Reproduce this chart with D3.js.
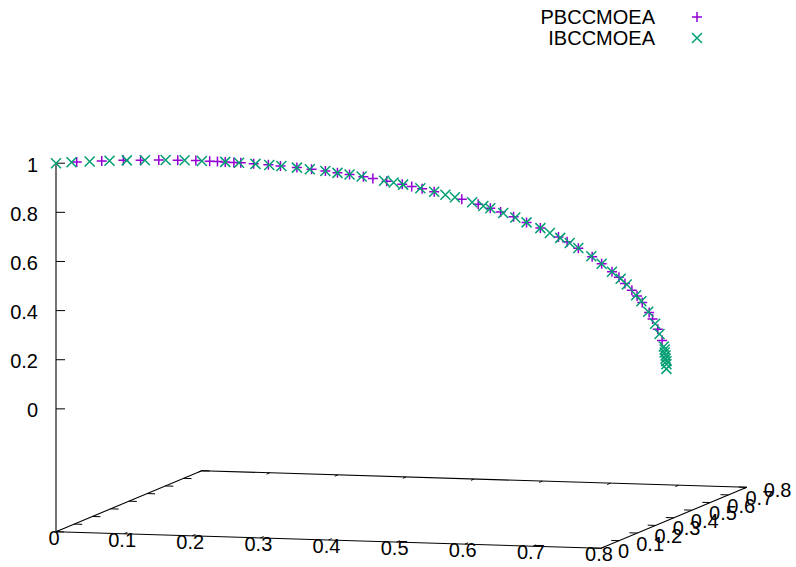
<!DOCTYPE html>
<html>
<head>
<meta charset="utf-8">
<script src="https://cdn.jsdelivr.net/npm/d3@7"></script>
<style>
  html, body { margin: 0; padding: 0; background: #fff; }
  svg { display: block; font-family: "Liberation Sans", Arial, Helvetica, sans-serif; }
</style>
</head>
<body>
<svg id="chart" width="796" height="567"></svg>
<script>
// Series: objective values (f1, f2, f3) of the two solution sets
const seriesNames = ["PBCCMOEA", "IBCCMOEA"];

const pbF1 = [0.024, 0.053, 0.078, 0.098, 0.119, 0.141, 0.162, 0.178, 0.187, 0.196,
  0.206, 0.214, 0.229, 0.246, 0.260, 0.279, 0.296, 0.312, 0.326, 0.340,
  0.356, 0.367, 0.383, 0.401, 0.412, 0.424, 0.438, 0.470, 0.489, 0.503,
  0.515, 0.530, 0.545, 0.561, 0.582, 0.592, 0.605, 0.621, 0.632, 0.644,
  0.652, 0.659, 0.667, 0.673, 0.679, 0.687, 0.691, 0.697, 0.702];
const pbF2 = [0.024, 0.053, 0.078, 0.098, 0.119, 0.141, 0.162, 0.178, 0.187, 0.196,
  0.206, 0.214, 0.229, 0.246, 0.260, 0.279, 0.296, 0.312, 0.326, 0.340,
  0.356, 0.367, 0.383, 0.401, 0.412, 0.424, 0.438, 0.470, 0.489, 0.503,
  0.515, 0.530, 0.545, 0.561, 0.582, 0.592, 0.605, 0.621, 0.632, 0.644,
  0.652, 0.659, 0.667, 0.673, 0.679, 0.687, 0.691, 0.697, 0.702];
const pbF3 = [0.999, 0.997, 0.994, 0.990, 0.986, 0.980, 0.974, 0.968, 0.965, 0.961,
  0.956, 0.953, 0.946, 0.938, 0.930, 0.919, 0.908, 0.898, 0.887, 0.877,
  0.864, 0.855, 0.840, 0.824, 0.812, 0.800, 0.785, 0.747, 0.722, 0.703,
  0.685, 0.662, 0.636, 0.609, 0.568, 0.547, 0.517, 0.479, 0.448, 0.413,
  0.388, 0.361, 0.332, 0.307, 0.280, 0.237, 0.210, 0.167, 0.120];

const ibF1 = [0.000, 0.018, 0.039, 0.062, 0.082, 0.103, 0.127, 0.149, 0.169, 0.196,
  0.212, 0.231, 0.247, 0.261, 0.279, 0.294, 0.312, 0.326, 0.340, 0.354,
  0.380, 0.391, 0.402, 0.422, 0.438, 0.451, 0.462, 0.482, 0.495, 0.503,
  0.518, 0.532, 0.545, 0.561, 0.572, 0.584, 0.595, 0.605, 0.620, 0.632,
  0.644, 0.654, 0.661, 0.672, 0.678, 0.686, 0.694, 0.699, 0.704, 0.705,
  0.705, 0.706, 0.706, 0.707, 0.707, 0.707];
const ibF2 = [0.000, 0.018, 0.039, 0.062, 0.082, 0.103, 0.127, 0.149, 0.169, 0.196,
  0.212, 0.231, 0.247, 0.261, 0.279, 0.294, 0.312, 0.326, 0.340, 0.354,
  0.380, 0.391, 0.402, 0.422, 0.438, 0.451, 0.462, 0.482, 0.495, 0.503,
  0.518, 0.532, 0.545, 0.561, 0.572, 0.584, 0.595, 0.605, 0.620, 0.632,
  0.644, 0.654, 0.661, 0.672, 0.678, 0.686, 0.694, 0.699, 0.704, 0.705,
  0.705, 0.706, 0.706, 0.707, 0.707, 0.707];
const ibF3 = [1.000, 1.000, 0.998, 0.996, 0.993, 0.989, 0.984, 0.978, 0.971, 0.961,
  0.954, 0.945, 0.937, 0.930, 0.919, 0.909, 0.898, 0.887, 0.877, 0.866,
  0.843, 0.833, 0.822, 0.803, 0.785, 0.770, 0.757, 0.732, 0.714, 0.703,
  0.680, 0.659, 0.636, 0.609, 0.587, 0.564, 0.541, 0.518, 0.481, 0.448,
  0.413, 0.382, 0.357, 0.311, 0.285, 0.240, 0.190, 0.147, 0.095, 0.082,
  0.070, 0.058, 0.045, 0.034, 0.022, 0.003];

// Axis ticks
const xTicks = [0, 0.1, 0.2, 0.3, 0.4, 0.5, 0.6, 0.7, 0.8];
const yTicks = [0, 0.1, 0.2, 0.3, 0.4, 0.5, 0.6, 0.7, 0.8];
const zTicks = [0, 0.2, 0.4, 0.6, 0.8, 1];

// ---- projection setup ----
const svg = d3.select("#chart");
svg.append("rect").attr("width", 796).attr("height", 567).attr("fill", "#fff");

// normalised axis positions (0..1 along each box edge)
const xs = d3.scaleLinear().domain([0, 0.8]).range([0, 1]);
const ys = d3.scaleLinear().domain([0, 0.8]).range([0, 1]);
const zs = d3.scaleLinear().domain([-0.5, 1]).range([0, 1]); // base plane sits half a range below z=0

// screen vectors of the box edges (oblique view)
const O = [56, 531.7];
const EX = [545, 16.6];
const EY = [145.7, -61];
const EZ = [0, -368.5];

function proj(x, y, z) {
  const a = xs(x), b = ys(y), c = zs(z);
  return [O[0] + a * EX[0] + b * EY[0] + c * EZ[0],
          O[1] + a * EX[1] + b * EY[1] + c * EZ[1]];
}

const zBase = -0.5;
const fmt = d3.format("~g");
const fontSize = 20;

const g = svg.append("g");

// base box
const corners = [[0, 0], [0.8, 0], [0.8, 0.8], [0, 0.8], [0, 0]];
g.append("path")
  .attr("d", d3.line()(corners.map(c => proj(c[0], c[1], zBase))))
  .attr("fill", "none").attr("stroke", "#000").attr("stroke-width", 1.1);

// vertical z axis at the front-left corner
g.append("path")
  .attr("d", d3.line()([proj(0, 0, zBase), proj(0, 0, 1)]))
  .attr("fill", "none").attr("stroke", "#000").attr("stroke-width", 1.1);

// unit screen directions for tick marks
function unit(v) { const l = Math.hypot(v[0], v[1]); return [v[0] / l, v[1] / l]; }
const ux = unit(EX), uy = unit(EY);

const ticks = g.append("g").attr("stroke", "#000").attr("stroke-width", 1);

// x ticks: front edge (pointing in) and back edge (pointing out toward viewer)
const xTicLen = 3.5;
xTicks.forEach(v => {
  const p = proj(v, 0, zBase), q = proj(v, 0.8, zBase);
  ticks.append("line").attr("x1", p[0]).attr("y1", p[1])
    .attr("x2", p[0] + uy[0] * xTicLen).attr("y2", p[1] + uy[1] * xTicLen);
  ticks.append("line").attr("x1", q[0]).attr("y1", q[1])
    .attr("x2", q[0] - uy[0] * xTicLen).attr("y2", q[1] - uy[1] * xTicLen);
});

// y ticks: right edge (pointing in) and left edge (mirror)
const yTicLen = 8;
yTicks.forEach(v => {
  const p = proj(0.8, v, zBase), q = proj(0, v, zBase);
  ticks.append("line").attr("x1", p[0]).attr("y1", p[1])
    .attr("x2", p[0] - ux[0] * yTicLen).attr("y2", p[1] - ux[1] * yTicLen);
  ticks.append("line").attr("x1", q[0]).attr("y1", q[1])
    .attr("x2", q[0] + ux[0] * yTicLen).attr("y2", q[1] + ux[1] * yTicLen);
});

// z ticks
zTicks.forEach(v => {
  const p = proj(0, 0, v);
  ticks.append("line").attr("x1", p[0]).attr("y1", p[1])
    .attr("x2", p[0] + 9).attr("y2", p[1]);
});

// tick labels
const labels = g.append("g").attr("font-size", fontSize).attr("fill", "#000");
xTicks.forEach(v => {
  const p = proj(v, 0, zBase);
  labels.append("text").attr("x", p[0] - 2).attr("y", p[1] + 6)
    .attr("text-anchor", "middle").attr("dominant-baseline", "central")
    .text(fmt(v));
});
yTicks.forEach(v => {
  const p = proj(0.8, v, zBase);
  labels.append("text").attr("x", p[0] + 17).attr("y", p[1] + 3)
    .attr("text-anchor", "start").attr("dominant-baseline", "central")
    .text(fmt(v));
});
zTicks.forEach(v => {
  const p = proj(0, 0, v);
  labels.append("text").attr("x", p[0] - 18).attr("y", p[1] + 1.5)
    .attr("text-anchor", "end").attr("dominant-baseline", "central")
    .text(fmt(v));
});

// ---- points ----
const colors = ["#9400d3", "#009e73"];
const R = 5;
const plusPath = `M${-R},0H${R}M0,${-R}V${R}`;
const crossPath = `M${-R},${-R}L${R},${R}M${-R},${R}L${R},${-R}`;
const shapes = [plusPath, crossPath];

const pbPts = pbF1.map((d, i) => [d, pbF2[i], pbF3[i]]);
const ibPts = ibF1.map((d, i) => [d, ibF2[i], ibF3[i]]);
const allSeries = [pbPts, ibPts];

allSeries.forEach((pts, si) => {
  g.append("g").selectAll("path").data(pts).join("path")
    .attr("d", shapes[si])
    .attr("transform", d => { const p = proj(d[0], d[1], d[2]); return `translate(${p[0]},${p[1]})`; })
    .attr("fill", "none").attr("stroke", colors[si]).attr("stroke-width", 1.5);
});

// ---- legend ----
const legend = svg.append("g").attr("font-size", fontSize);
seriesNames.forEach((name, i) => {
  const yRow = 17 + i * 21;
  legend.append("text").attr("x", 655).attr("y", yRow).attr("text-anchor", "end")
    .attr("dominant-baseline", "central").text(name);
  legend.append("path").attr("d", shapes[i])
    .attr("transform", `translate(697,${yRow})`)
    .attr("fill", "none").attr("stroke", colors[i]).attr("stroke-width", 1.5);
});
</script>
</body>
</html>
